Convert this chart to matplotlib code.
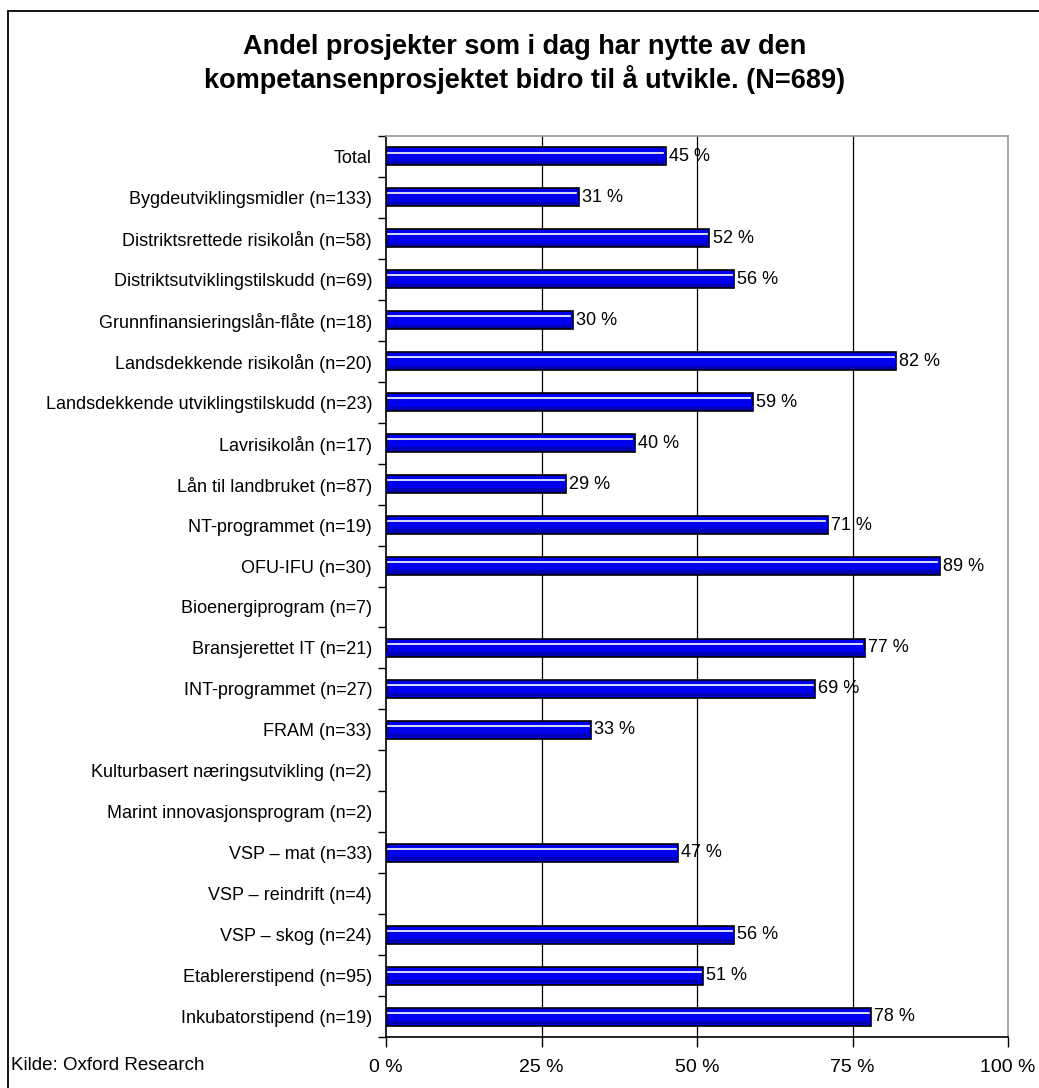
import matplotlib
matplotlib.use("Agg")
import matplotlib.pyplot as plt
from matplotlib.patches import Rectangle
import numpy as np

plt.rcParams["font.family"] = ["Liberation Sans", "DejaVu Sans"]

categories = [
    "Total",
    "Bygdeutviklingsmidler (n=133)",
    "Distriktsrettede risikolån (n=58)",
    "Distriktsutviklingstilskudd (n=69)",
    "Grunnfinansieringslån-flåte (n=18)",
    "Landsdekkende risikolån (n=20)",
    "Landsdekkende utviklingstilskudd (n=23)",
    "Lavrisikolån (n=17)",
    "Lån til landbruket (n=87)",
    "NT-programmet (n=19)",
    "OFU-IFU (n=30)",
    "Bioenergiprogram (n=7)",
    "Bransjerettet IT (n=21)",
    "INT-programmet (n=27)",
    "FRAM (n=33)",
    "Kulturbasert næringsutvikling (n=2)",
    "Marint innovasjonsprogram (n=2)",
    "VSP – mat (n=33)",
    "VSP – reindrift (n=4)",
    "VSP – skog (n=24)",
    "Etablererstipend (n=95)",
    "Inkubatorstipend (n=19)",
]
# None = no bar shown (too few answers)
values = [45, 31, 52, 56, 30, 82, 59, 40, 29, 71, 89, None, 77, 69, 33,
          None, None, 47, None, 56, 51, 78]

x_ticks = [0, 25, 50, 75, 100]
x_labels = ["0 %", "25 %", "50 %", "75 %", "100 %"]

title = "Andel prosjekter som i dag har nytte av den\nkompetansenprosjektet bidro til å utvikle. (N=689)"
source = "Kilde: Oxford Research"

W, H = 1039, 1088
fig = plt.figure(figsize=(W / 100, H / 100), dpi=100)

# outer frame (clipped on right/bottom like the original)
fig.patches.append(Rectangle((8 / W, -0.05), 1.1, 1 - 11 / H + 0.05,
                             transform=fig.transFigure, fill=False,
                             edgecolor="black", linewidth=1.3, zorder=0))

ax = fig.add_axes([386 / W, 1 - 1037 / H, (1008 - 386) / W, (1037 - 136) / H])

y = np.arange(len(categories))
bar_h = 0.44
for yi, v in zip(y, values):
    if v is None:
        continue
    ax.barh(yi, v, height=bar_h, color="#0000ee", edgecolor="black",
            linewidth=1.2, zorder=3)
    # darker lower strip and white highlight line
    ax.barh(yi + bar_h * 0.33, v, height=bar_h * 0.18, color="#0000b0",
            linewidth=0, zorder=3)
    ax.plot([0.3, v - 0.4], [yi - bar_h * 0.22] * 2, color="white",
            linewidth=1.2, zorder=4)
    ax.text(v + 0.5, yi, f"{v} %", va="center", ha="left", fontsize=13,
            zorder=5)

ax.set_xlim(0, 100)
ax.set_ylim(len(categories) - 0.5, -0.5)

ax.set_yticks(y)
ax.set_yticklabels(categories, fontsize=13)
ax.tick_params(axis="y", which="major", length=0, pad=10)
ax.set_yticks(np.arange(len(categories) + 1) - 0.5, minor=True)
ax.tick_params(axis="y", which="minor", length=6, width=1, direction="out")

ax.set_xticks(x_ticks)
ax.set_xticklabels(x_labels, fontsize=14)
ax.tick_params(axis="x", length=7, width=1, direction="out", pad=9)

for xv in x_ticks[1:-1]:
    ax.axvline(xv, color="black", linewidth=0.9, zorder=1)

ax.spines["left"].set_linewidth(1.2)
ax.spines["bottom"].set_linewidth(1.2)
ax.spines["top"].set_color("#999999")
ax.spines["right"].set_color("#999999")
ax.spines["top"].set_linewidth(1.2)
ax.spines["right"].set_linewidth(1.2)

fig.text(525 / W, 1 - 64 / H, title, ha="center", va="center",
         fontsize=19.5, fontweight="bold", linespacing=1.2)
fig.text(11 / W, 1 - 1066 / H, source, ha="left", va="center", fontsize=13.5)

fig.savefig("out.png", dpi=100)
